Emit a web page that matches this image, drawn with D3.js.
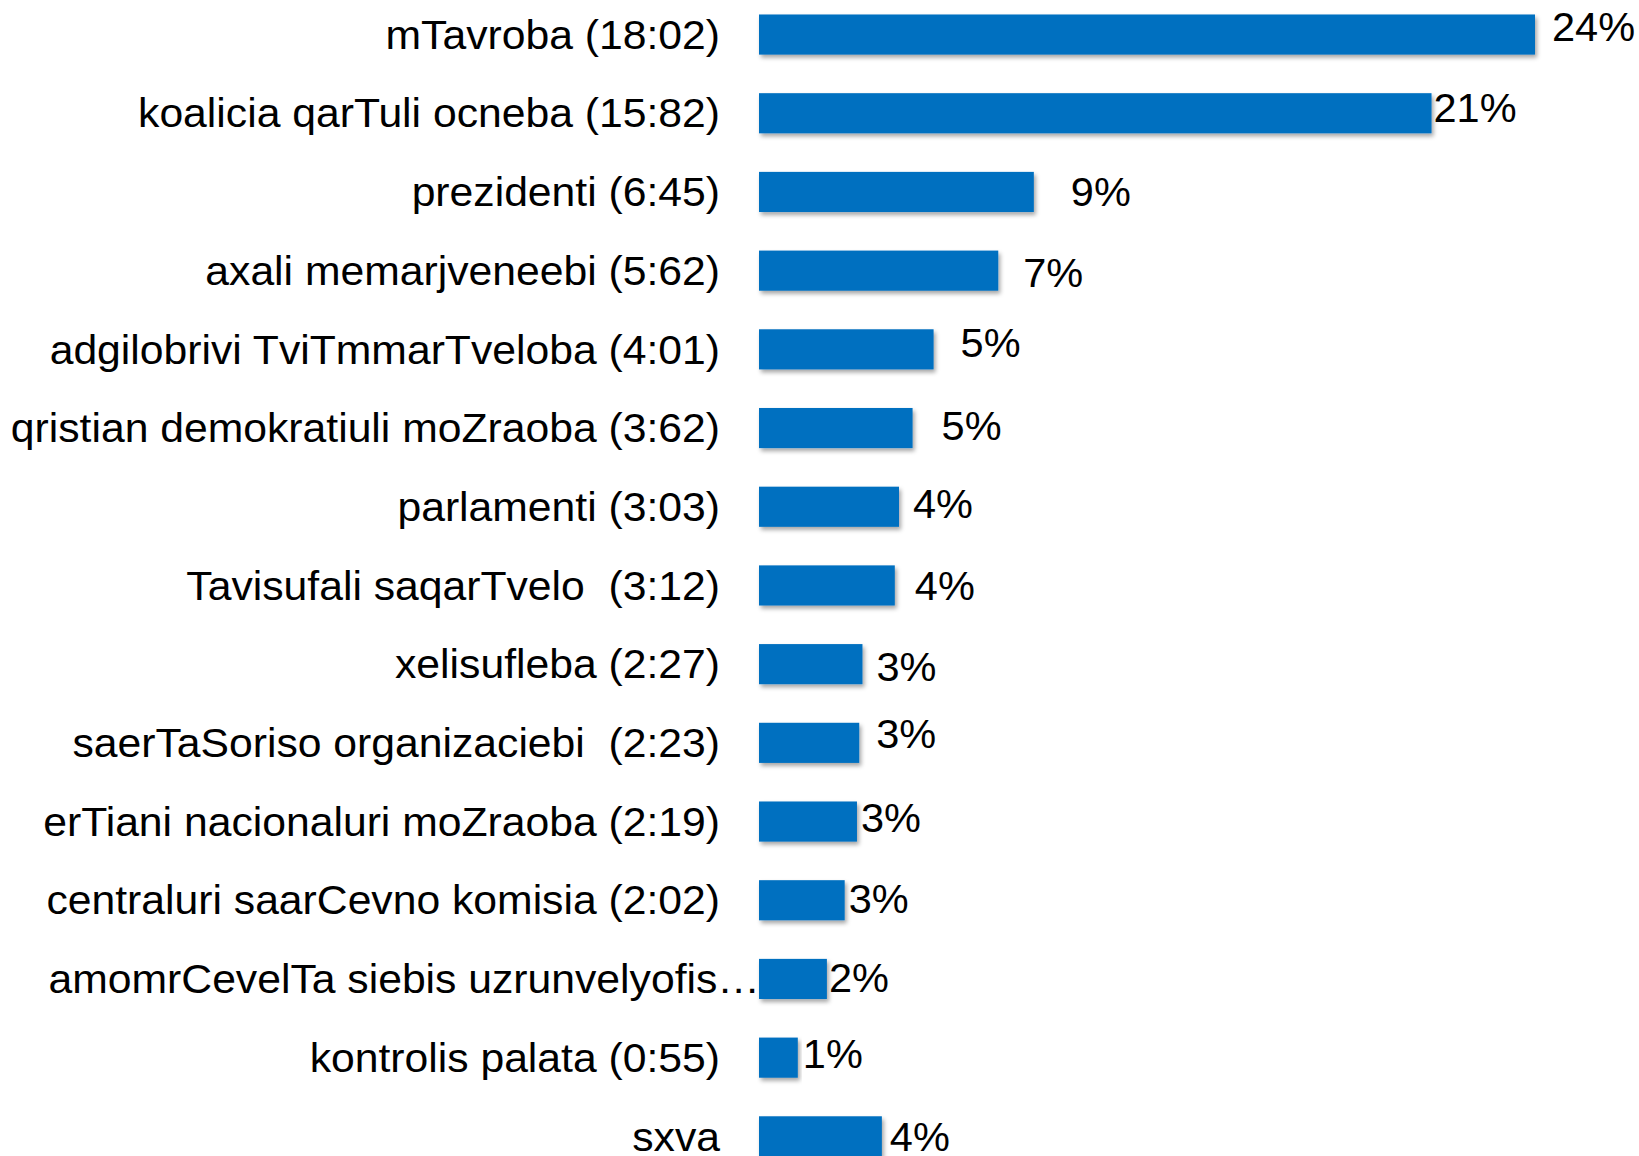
<!DOCTYPE html>
<html>
<head>
<meta charset="utf-8">
<script src="https://cdn.jsdelivr.net/npm/d3@7"></script>
<style>
  html, body { margin: 0; padding: 0; background: #fff; }
  #chart { width: 1639px; height: 1156px; overflow: hidden; }
</style>
</head>
<body>
<div id="chart"></div>
<script>
const categories = [
  'mTavroba (18:02)',
  'koalicia qarTuli ocneba (15:82)',
  'prezidenti (6:45)',
  'axali memarjveneebi (5:62)',
  'adgilobrivi TviTmmarTveloba (4:01)',
  'qristian demokratiuli moZraoba (3:62)',
  'parlamenti (3:03)',
  'Tavisufali saqarTvelo  (3:12)',
  'xelisufleba (2:27)',
  'saerTaSoriso organizaciebi  (2:23)',
  'erTiani nacionaluri moZraoba (2:19)',
  'centraluri saarCevno komisia (2:02)',
  'amomrCevelTa siebis uzrunvelyofis\u2026',
  'kontrolis palata (0:55)',
  'sxva'
];

const values = [24.0, 20.8, 8.5, 7.4, 5.4, 4.75, 4.33, 4.2, 3.2, 3.1, 3.03, 2.65, 2.1, 1.2, 3.8];

// the value labels were dragged by hand in the original, small nudges (px)
const la_dx = [17, 2, 37, 25, 27, 29, 14, 20, 14, 17, 4, 4, 2, 5, 8];
const la_dy = [-8, -6, 0, 2, -7, -3, -3, 0, 2, -9, -4, -2, -1, -4, 0];

const width = 1639;
const height = 1156;

const svg = d3.select('#chart')
  .append('svg')
  .attr('width', width)
  .attr('height', height)
  .attr('viewBox', `0 0 ${width} ${height}`);

const defs = svg.append('defs');
const fi = defs.append('filter')
  .attr('id', 'shadow')
  .attr('x', '-5%').attr('y', '-20%')
  .attr('width', '115%').attr('height', '160%');
fi.append('feDropShadow')
  .attr('dx', 2)
  .attr('dy', 3)
  .attr('stdDeviation', 2)
  .attr('flood-color', '#000')
  .attr('flood-opacity', 0.35);

const x_sc = d3.scaleLinear()
  .domain([0, 24])
  .range([759, 1535]);

const y_sc = d3.scaleBand()
  .domain(categories)
  .range([-4.8, -4.8 + 15 * 78.7])
  .paddingInner(0.49)
  .paddingOuter(0.245);

const rows = categories.map((c, i) => ({ cat: c, value: values[i], i }));

svg.append('g')
  .selectAll('rect')
  .data(rows)
  .enter()
  .append('rect')
  .attr('x', x_sc(0))
  .attr('y', d => y_sc(d.cat))
  .attr('width', d => x_sc(d.value) - x_sc(0))
  .attr('height', y_sc.bandwidth())
  .attr('fill', '#0070C0')
  .attr('filter', 'url(#shadow)');

const font = 'Liberation Sans, Arial, sans-serif';

// category text in the original is a little wider than plain Arial
svg.append('g')
  .selectAll('text')
  .data(rows)
  .enter()
  .append('text')
  .attr('transform', d => {
    const x = d.cat.endsWith('\u2026') ? x_sc(0) + 1 : 720;
    const y = y_sc(d.cat) + y_sc.bandwidth() / 2;
    return `translate(${x},${y}) scale(1.054,1)`;
  })
  .attr('dy', '0.35em')
  .attr('text-anchor', 'end')
  .style('white-space', 'pre')
  .attr('font-family', font)
  .attr('font-size', 40.5)
  .attr('fill', '#000')
  .text(d => d.cat);

const fmt = d3.format('.0f');

svg.append('g')
  .selectAll('text')
  .data(rows)
  .enter()
  .append('text')
  .attr('x', d => x_sc(d.value) + la_dx[d.i])
  .attr('y', d => y_sc(d.cat) + y_sc.bandwidth() / 2 + la_dy[d.i])
  .attr('dy', '0.35em')
  .attr('font-family', font)
  .attr('font-size', 41.5)
  .attr('fill', '#000')
  .text(d => fmt(d.value) + '%');
</script>
</body>
</html>
